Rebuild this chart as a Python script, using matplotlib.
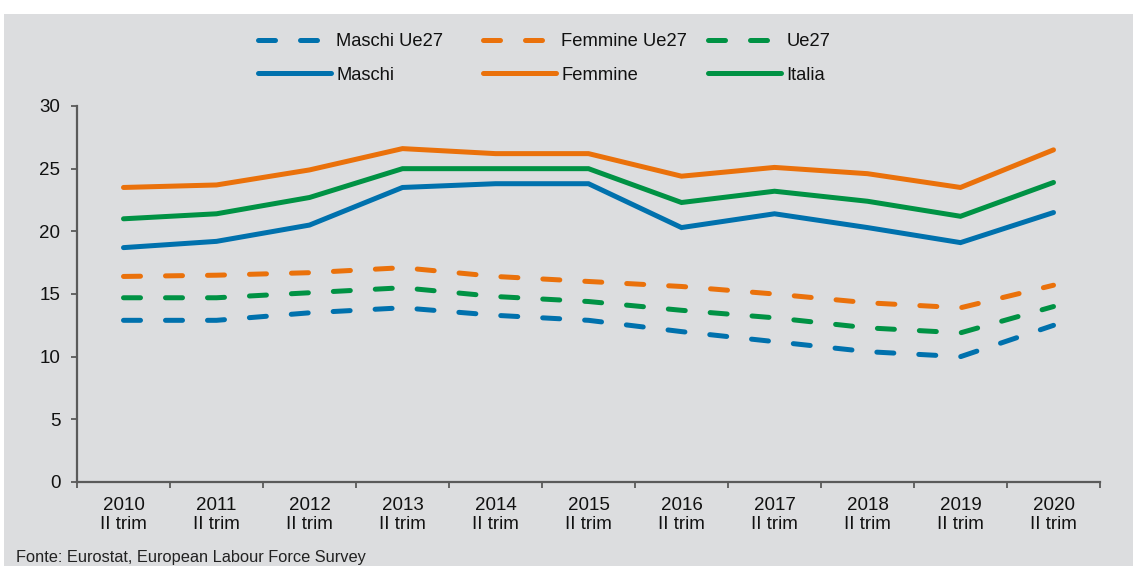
import matplotlib
matplotlib.use("Agg")
import matplotlib.pyplot as plt
from matplotlib.patches import Rectangle
import numpy as np

years = ["2010", "2011", "2012", "2013", "2014", "2015", "2016", "2017", "2018", "2019", "2020"]
tick_labels = [y + "\nII trim" for y in years]

maschi_ue27 = [12.9, 12.9, 13.5, 13.9, 13.3, 12.9, 12.0, 11.2, 10.4, 10.0, 12.5]
femmine_ue27 = [16.4, 16.5, 16.7, 17.1, 16.4, 16.0, 15.6, 15.0, 14.3, 13.9, 15.7]
ue27 = [14.7, 14.7, 15.1, 15.5, 14.8, 14.4, 13.7, 13.1, 12.3, 11.9, 14.0]
maschi = [18.7, 19.2, 20.5, 23.5, 23.8, 23.8, 20.3, 21.4, 20.3, 19.1, 21.5]
femmine = [23.5, 23.7, 24.9, 26.6, 26.2, 26.2, 24.4, 25.1, 24.6, 23.5, 26.5]
italia = [21.0, 21.4, 22.7, 25.0, 25.0, 25.0, 22.3, 23.2, 22.4, 21.2, 23.9]

BLUE = "#0071ad"
ORANGE = "#ea710b"
GREEN = "#009244"
BG = "#dcdddf"
AX = "#5a5a5a"
TXT = "#111111"

REG = ["Liberation Sans", "Arial", "DejaVu Sans"]
NARROW = ["Liberation Sans Narrow", "Liberation Sans", "DejaVu Sans"]
plt.rcParams["font.family"] = REG

fig = plt.figure(figsize=(11.33, 5.66), dpi=100, facecolor="white")
fig.patches.append(Rectangle((4 / 1133, 0), 1, 1 - 14 / 566, transform=fig.transFigure,
                             facecolor=BG, edgecolor="none", zorder=-10))

ax = fig.add_axes([77 / 1133, 1 - 482 / 566, (1100 - 77) / 1133, (482 - 106) / 566])
ax.patch.set_alpha(0)

x = np.arange(len(years))
lw = 3.6
dash = (0, (3.4, 5.0))
l1, = ax.plot(x, maschi_ue27, color=BLUE, lw=lw, linestyle=dash, dash_capstyle="round", label="Maschi Ue27")
l2, = ax.plot(x, femmine_ue27, color=ORANGE, lw=lw, linestyle=dash, dash_capstyle="round", label="Femmine Ue27")
l3, = ax.plot(x, ue27, color=GREEN, lw=lw, linestyle=dash, dash_capstyle="round", label="Ue27")
l4, = ax.plot(x, maschi, color=BLUE, lw=lw, solid_capstyle="round", solid_joinstyle="miter", label="Maschi")
l5, = ax.plot(x, femmine, color=ORANGE, lw=lw, solid_capstyle="round", solid_joinstyle="miter", label="Femmine")
l6, = ax.plot(x, italia, color=GREEN, lw=lw, solid_capstyle="round", solid_joinstyle="miter", label="Italia")

ax.set_xlim(-0.5, len(years) - 0.5)
ax.set_ylim(0, 30)
ax.set_yticks(range(0, 31, 5))
ax.set_xticks(x)
ax.set_xticklabels(tick_labels, fontsize=13.5, color=TXT)
ax.set_xticks(np.arange(-0.5, len(years), 1), minor=True)
ax.tick_params(axis="y", labelsize=13.5, labelcolor=TXT, length=4.5, width=1.3, color=AX, pad=7.5, direction="out")
ax.tick_params(axis="x", which="major", length=0, pad=10.5)
ax.tick_params(axis="x", which="minor", length=4, width=1.3, color=AX, direction="out")
for s in ["top", "right"]:
    ax.spines[s].set_visible(False)
for s in ["left", "bottom"]:
    ax.spines[s].set_color(AX)
    ax.spines[s].set_linewidth(1.6)

columns = [(l1, l4, 258), (l2, l5, 483), (l3, l6, 708)]
for ha, hb, px in columns:
    lg = fig.legend([ha, hb], [ha.get_label(), hb.get_label()], loc="center left",
                    bbox_to_anchor=(px / 1133, 1 - 58.5 / 566), frameon=False,
                    prop={"size": 13.2}, handlelength=4.0, handletextpad=0.28,
                    labelspacing=0.9, borderpad=0, borderaxespad=0)
    for t in lg.get_texts():
        t.set_color(TXT)

fig.text(16 / 1133, 1 - 562 / 566, "Fonte: Eurostat, European Labour Force Survey",
         fontsize=11.8, family=NARROW, color="#222222", va="baseline", ha="left")

fig.savefig("out.png", dpi=100, facecolor=fig.get_facecolor())
